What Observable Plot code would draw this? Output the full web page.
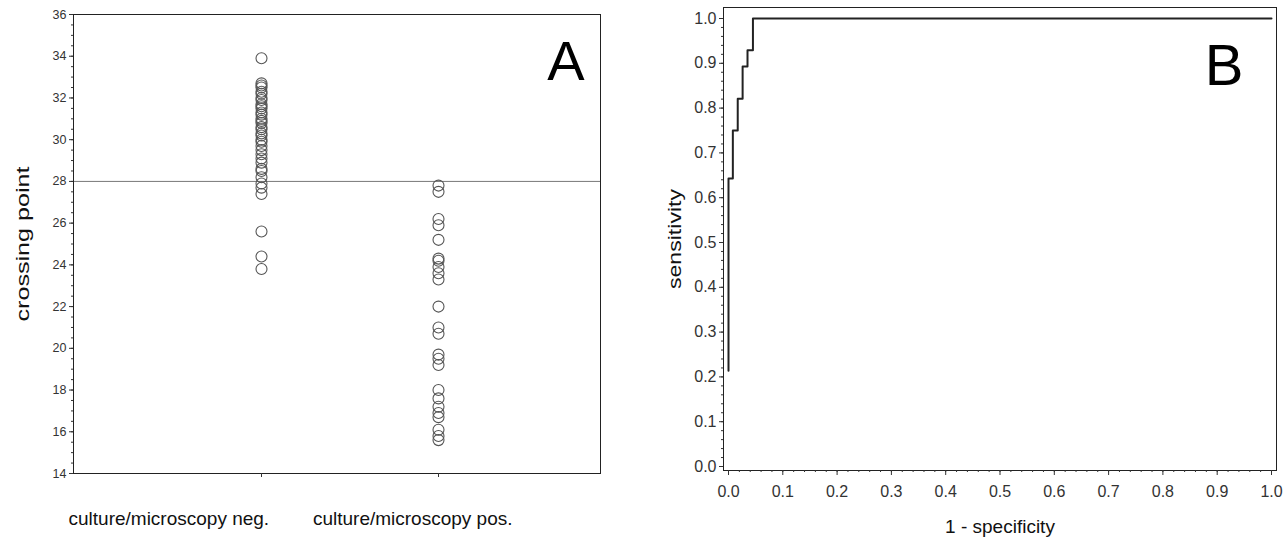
<!DOCTYPE html>
<html><head><meta charset="utf-8">
<script src="https://cdn.jsdelivr.net/npm/d3@7"></script>
<script src="https://cdn.jsdelivr.net/npm/@observablehq/plot@0.6"></script>
<style>
body{margin:0;background:#fff}
#wrap{display:flex;width:1288px;height:544px;overflow:hidden}
svg{font-family:"Liberation Sans",Arial,Helvetica,sans-serif}
</style>
</head><body><div id="wrap"></div>
<script>
// ---- Panel A data ----
const categories = ["culture/microscopy neg.", "culture/microscopy pos."];
const negValues = [33.9, 32.7, 32.6, 32.5, 32.3, 32.2, 32.0, 31.9, 31.7, 31.6, 31.5, 31.3, 31.2, 31.0, 30.9, 30.8, 30.6, 30.5, 30.3, 30.2, 30.0, 29.9, 29.7, 29.5, 29.3, 29.1, 28.9, 28.6, 28.5, 28.2, 27.9, 27.7, 27.4, 25.6, 24.4, 23.8];
const posValues = [27.8, 27.5, 26.2, 25.9, 25.2, 24.3, 24.2, 23.9, 23.6, 23.3, 22.0, 21.0, 20.7, 19.7, 19.5, 19.2, 18.0, 17.6, 17.2, 16.9, 16.7, 16.1, 15.8, 15.6];
const cutoff = 28;
const yTicksA = [14, 16, 18, 20, 22, 24, 26, 28, 30, 32, 34, 36];
const yMinorA = d3.range(14, 36.001, 0.5);

// ---- Panel B data ----
const rocFpr  = [0, 0, 0.008, 0.017, 0.026, 0.035, 0.045, 1.0];
const rocSens = [0.214, 0.643, 0.75, 0.821, 0.893, 0.929, 1.0, 1.0];
const ticksB = [0, 0.1, 0.2, 0.3, 0.4, 0.5, 0.6, 0.7, 0.8, 0.9, 1.0];
const minorB = d3.range(0, 1.0001, 0.02);

const ptsA = [
  ...negValues.map(v => ({cat: categories[0], value: v})),
  ...posValues.map(v => ({cat: categories[1], value: v}))
];
const roc = rocFpr.map((x, i) => ({x, y: rocSens[i]}));

const font = '"Liberation Sans", Arial, Helvetica, sans-serif';

const plotA = Plot.plot({
  width: 640, height: 544,
  marginLeft: 73, marginRight: 40, marginTop: 14, marginBottom: 71,
  style: {fontFamily: font, color: "#333", background: "#fff"},
  x: {type: "point", domain: categories, padding: 0, insetLeft: 188, insetRight: 162},
  y: {domain: [14, 36]},
  marks: [
    Plot.ruleY([cutoff], {stroke: "#777", strokeWidth: 1}),
    Plot.dot(ptsA, {x: "cat", y: "value", r: 5.5, stroke: "#555", strokeWidth: 1.1, fill: "none"}),
    Plot.frame({stroke: "#222"}),
    Plot.axisY({ticks: yTicksA, tickSize: 4, tickPadding: 3, fontSize: 12.5, label: null}),
    Plot.axisY({ticks: yMinorA, tickSize: 2, text: null, label: null}),
    Plot.axisX({tickSize: 4, text: null, label: null}),
    Plot.text([categories[0]], {x: d => d, frameAnchor: "bottom", textAnchor: "start", dx: -193, dy: 51, fontSize: 19, fill: "#111"}),
    Plot.text([categories[1]], {x: d => d, frameAnchor: "bottom", textAnchor: "end", dx: 74, dy: 51, fontSize: 19, fill: "#111"}),
    Plot.text(["crossing point"], {frameAnchor: "left", textAnchor: "middle", dx: -51, rotate: -90, fontSize: 19, fill: "#111"}),
    Plot.text(["A"], {frameAnchor: "top-right", dx: -16, dy: 26, fontSize: 56, fill: "#000"})
  ]
});

const plotB = Plot.plot({
  width: 648, height: 544,
  marginLeft: 83, marginRight: 12, marginTop: 7, marginBottom: 74,
  style: {fontFamily: font, color: "#333", background: "#fff"},
  x: {domain: [0, 1], insetLeft: 5, insetRight: 5},
  y: {domain: [0, 1], insetTop: 11, insetBottom: 4},
  marks: [
    Plot.line(roc, {x: "x", y: "y", curve: "step-after", stroke: "#222", strokeWidth: 2}),
    Plot.frame({stroke: "#222"}),
    Plot.axisY({ticks: ticksB, tickFormat: d3.format(".1f"), tickSize: 4, tickPadding: 3, fontSize: 16, label: null}),
    Plot.axisY({ticks: minorB, tickSize: 2, text: null, label: null}),
    Plot.axisX({ticks: ticksB, tickFormat: d3.format(".1f"), tickSize: 5, tickPadding: 10, fontSize: 16, label: null}),
    Plot.axisX({ticks: minorB, tickSize: 2, text: null, label: null}),
    Plot.text(["1 - specificity"], {frameAnchor: "bottom", dy: 62, fontSize: 19, fill: "#111"}),
    Plot.text(["sensitivity"], {frameAnchor: "left", textAnchor: "middle", dx: -49, rotate: -90, fontSize: 19, fill: "#111"}),
    Plot.text(["B"], {frameAnchor: "top-right", dx: -33, dy: 36, fontSize: 58, fill: "#000"})
  ]
});

// The reference's rotated axis titles are drawn elongated; stretch them to the same length.
function stretch(svg, label, len) {
  d3.select(svg).selectAll("text")
    .filter(function () { return this.textContent === label; })
    .attr("textLength", len)
    .attr("lengthAdjust", "spacingAndGlyphs");
}
stretch(plotA, "crossing point", 155);
stretch(plotB, "sensitivity", 100);

document.getElementById("wrap").append(plotA, plotB);
</script>
</body></html>
